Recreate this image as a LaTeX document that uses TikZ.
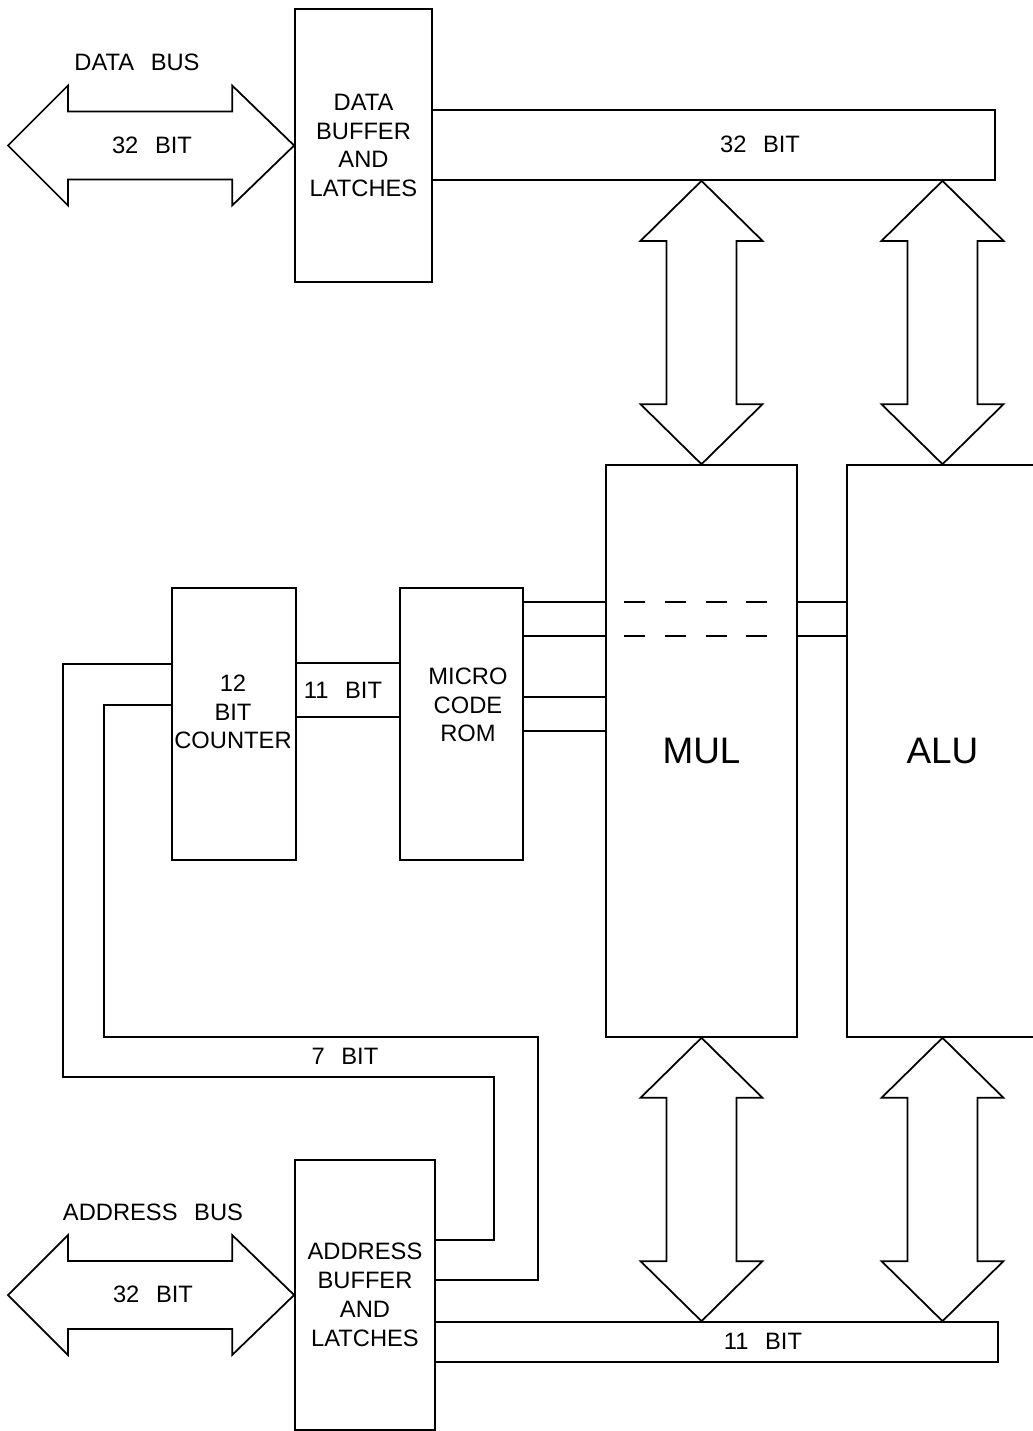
\documentclass[tikz,border=0pt]{standalone}
\usepackage{fontspec}
\setmainfont{Liberation Sans}
\usetikzlibrary{calc,positioning}
\DeclareRobustCommand\labfont{\fontsize{13.5}{16.4}\selectfont\spaceskip=0.7em\relax}
\DeclareRobustCommand\bigfont{\fontsize{21}{24}\selectfont}

\begin{document}
\begin{tikzpicture}[x=0.02cm,y=-0.02cm,line width=1pt,
    blk/.style={draw,rectangle,inner sep=0pt,align=center},
    txt/.style={inner sep=0pt,align=center,font=\labfont},
    big/.style={font=\bigfont}]
  \useasboundingbox (0,0) rectangle (1032,1431);
  % buffers and buses
  \node[blk,txt,minimum width=2.74cm,minimum height=5.46cm] (dbuf) at (363.5,145.5)
    {DATA\\BUFFER\\AND\\LATCHES};
  \node[blk,txt,minimum width=2.8cm,minimum height=5.4cm] (abuf) at (365,1295)
    {ADDRESS\\BUFFER\\AND\\LATCHES};
  \node[blk,minimum width=11.26cm,minimum height=1.4cm] (dbar) at (713.5,145) {};
  \node[txt] (dbarT) at (760,144) {32 BIT};
  \node[blk,minimum width=11.26cm,minimum height=0.8cm] (abar) at (716.5,1342) {};
  \node[txt] (abarT) at (763,1341) {11 BIT};
  % counter and rom
  \node[blk,minimum width=2.48cm,minimum height=5.44cm] (cnt) at (234,724) {};
  \node[txt] (cntT) at (233,712) {12\\BIT\\COUNTER};
  \node[blk,minimum width=2.46cm,minimum height=5.44cm] (rom) at (461.5,724) {};
  \node[txt] (romT) at (468,705) {MICRO\\CODE\\ROM};
  % mul and alu
  \node[blk,big,minimum width=3.82cm,minimum height=11.44cm] (mul) at (701.5,751) {MUL};
  \node[blk,big,minimum width=3.82cm,minimum height=11.44cm] (alu) at (942.5,751) {ALU};
  % external bus arrows
  \coordinate (dL) at (dbuf.west -| 8,0);
  \coordinate (aL) at (abuf.west -| 8,0);
  \foreach \r/\l in {dbuf.west/dL,abuf.west/aL}
    \draw (\r) -- ++(-62,-60) -- ++(0,26) -- ($(\l)+(60,-34)$) -- ++(0,-26) -- (\l)
      -- ++(60,60) -- ++(0,-26) -- ($(\r)+(-62,34)$) -- ++(0,26) -- cycle;
  \node[txt] (dbusT) at (137,62) {DATA BUS};
  \node[txt] (dbitT) at (152,145) {32 BIT};
  \node[txt] (abusT) at (153,1212) {ADDRESS BUS};
  \node[txt] (abitT) at (153,1294) {32 BIT};
  % internal bus arrows
  \foreach \b in {mul,alu}{
    \coordinate (t1) at (\b.north |- dbar.south);
    \coordinate (t2) at (\b.north);
    \coordinate (b1) at (\b.south);
    \coordinate (b2) at (\b.south |- abar.north);
    \foreach \p/\q in {t1/t2,b1/b2}
      \draw (\p) -- ++(61,60) -- ++(-26,0) -- ($(\q)+(35,-60)$) -- ++(26,0) -- (\q)
        -- ++(-61,-60) -- ++(26,0) -- ($(\p)+(-35,60)$) -- ++(-26,0) -- cycle;
  }
  % control lines
  \foreach \y in {663,717}
    \draw (cnt.east |- 0,\y) -- (rom.west |- 0,\y);
  \node[txt] (cbitT) at (343,690) {11 BIT};
  \foreach \y in {602,636,697,731}
    \draw (rom.east |- 0,\y) -- (mul.west |- 0,\y);
  \foreach \y in {602,636}{
    \draw[dash pattern=on 11.9pt off 11.3pt] ($(mul.west |- 0,\y)+(19,0)$) -- ($(mul.east |- 0,\y)+(-27,0)$);
    \draw (mul.east |- 0,\y) -- (alu.west |- 0,\y);
  }
  % feedback from address buffer
  \draw (cnt.west |- 0,664) -| (63,1077) -| (494,1240) -- (abuf.east |- 0,1240);
  \draw (cnt.west |- 0,705) -| (104,1037) -| (538,1280) -- (abuf.east |- 0,1280);
  \node[txt] (fbitT) at (345,1056) {7 BIT};
\end{tikzpicture}
\end{document}
